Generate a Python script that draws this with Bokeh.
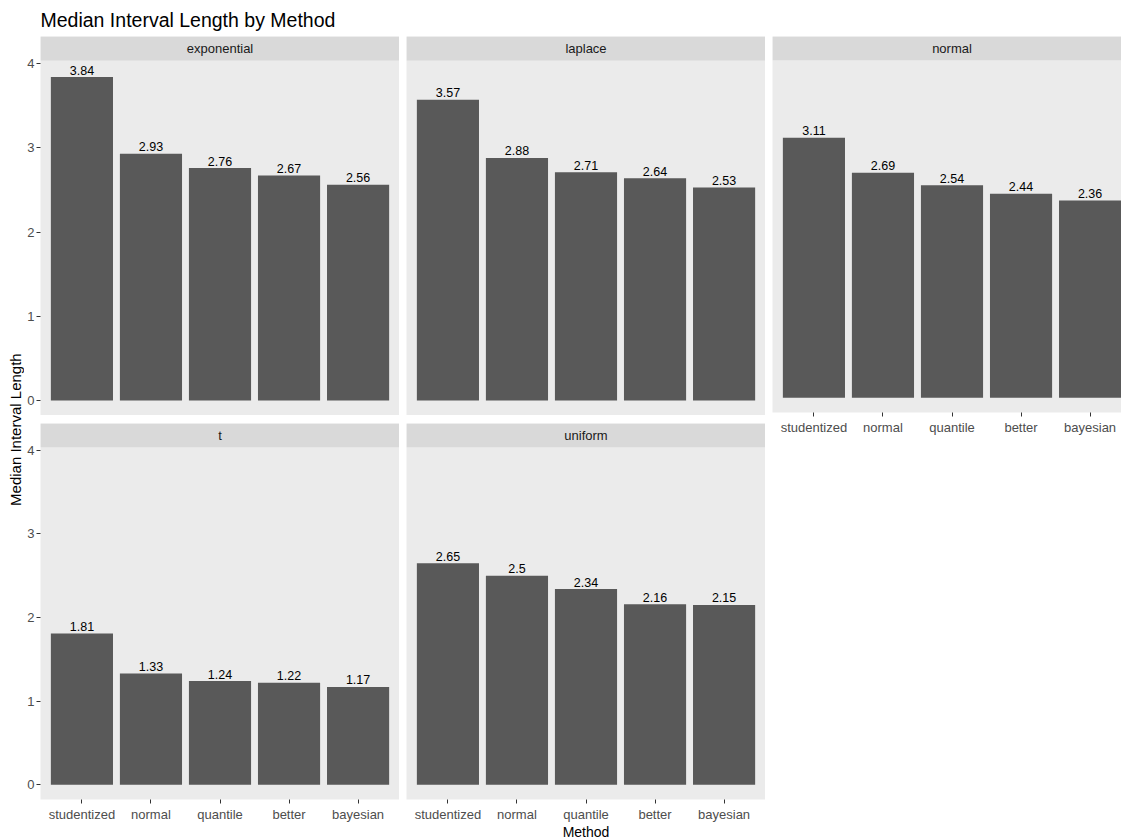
import math
from bokeh.plotting import figure
from bokeh.layouts import row, column
from bokeh.models import Range1d, FixedTicker, BoxAnnotation, Label, ColumnDataSource
from bokeh.embed import file_html
from bokeh.resources import INLINE
from bokeh.core.properties import value

# ---------------- data ----------------
methods = ["studentized", "normal", "quantile", "better", "bayesian"]
distributions = ["exponential", "laplace", "normal", "t", "uniform"]
exponential = [3.84, 2.93, 2.76, 2.67, 2.56]
laplace = [3.57, 2.88, 2.71, 2.64, 2.53]
normal = [3.11, 2.69, 2.54, 2.44, 2.36]
t_dist = [1.81, 1.33, 1.24, 1.22, 1.17]
uniform = [2.65, 2.50, 2.34, 2.16, 2.15]
title_text = "Median Interval Length by Method"
x_title = "Method"
y_title = "Median Interval Length"

series = {"exponential": exponential, "laplace": laplace, "normal": normal,
          "t": t_dist, "uniform": uniform}

# ---------------- style / geometry ----------------
FONT = "Liberation Sans"
TOTAL_W = 1121
TOTAL_H = 838
PANEL_W = 359
PANEL_H = 355
STRIP_H = 24
GAP_X = 7
GAP_Y = 8
LEFT_AX = 16
BOTTOM_AX = 22
YLAB_W = 24
TITLE_H = 36

all_vals = exponential + laplace + normal + t_dist + uniform
ymax = max(all_vals)
Y0 = -0.046 * ymax
Y_TOP = ymax * 1.051
ppu = PANEL_H / (Y_TOP - Y0)
Y_END = Y_TOP + STRIP_H / ppu

X0, X1 = 0.4, 5.6
ppx = PANEL_W / (X1 - X0)


def style_axis(ax):
    ax.axis_line_color = None
    ax.major_tick_line_color = "#333333"
    ax.major_tick_out = 4
    ax.major_tick_in = 0
    ax.minor_tick_line_color = None
    ax.major_label_text_font = FONT
    ax.major_label_text_font_size = "13px"
    ax.major_label_text_color = "#4D4D4D"
    ax.major_label_standoff = 3


def make_panel(name, frame_w, left, top, bottom, show_x, show_y):
    vals = series[name]
    x_end = X0 + frame_w / ppx
    frame_h = PANEL_H + STRIP_H
    p = figure(width=left + frame_w, height=top + frame_h + bottom,
               x_range=Range1d(X0, x_end), y_range=Range1d(Y0, Y_END),
               output_backend="svg", toolbar_location=None, title=None,
               x_axis_location="below" if show_x else None,
               y_axis_location="left" if show_y else None,
               min_border_left=left, min_border_right=0,
               min_border_top=top, min_border_bottom=bottom)
    p.background_fill_color = "#EBEBEB"
    p.border_fill_color = "white"
    p.outline_line_color = None
    p.xgrid.grid_line_color = None
    p.ygrid.grid_line_color = None

    src = ColumnDataSource(dict(x=list(range(1, len(methods) + 1)), top=vals,
                                label=[f"{v:g}" for v in vals]))
    p.vbar(x="x", top="top", bottom=0, width=0.9, source=src,
           fill_color="#595959", line_color=None)
    p.text(x="x", y="top", text="label", source=src, text_align="center",
           text_baseline="middle", y_offset=-7,
           text_font=value(FONT), text_font_size=value("12.5px"), text_color="black")

    p.add_layout(BoxAnnotation(bottom=Y_TOP, top=Y_END, left=X0, right=x_end,
                               fill_color="#D9D9D9", fill_alpha=1.0, line_color=None))
    p.add_layout(Label(x=(X0 + X1) / 2, y=(Y_TOP + Y_END) / 2, text=name,
                       text_align="center", text_baseline="middle", text_font=FONT,
                       text_font_size="13px", text_color="#1A1A1A"))

    if show_x:
        ax = p.xaxis[0]
        ax.ticker = FixedTicker(ticks=list(range(1, len(methods) + 1)))
        ax.major_label_overrides = {i + 1: m for i, m in enumerate(methods)}
        style_axis(ax)
    if show_y:
        ay = p.yaxis[0]
        ay.ticker = FixedTicker(ticks=[0, 1, 2, 3, 4])
        style_axis(ay)
        ay.major_label_standoff = 2
    return p


third_w = TOTAL_W - YLAB_W - (LEFT_AX + PANEL_W) - (GAP_X + PANEL_W) - GAP_X

p1 = make_panel("exponential", PANEL_W, LEFT_AX, 0, 0, False, True)
p2 = make_panel("laplace", PANEL_W, GAP_X, 0, 0, False, False)
p3 = make_panel("normal", third_w, GAP_X, 0, BOTTOM_AX, True, False)
p4 = make_panel("t", PANEL_W, LEFT_AX, GAP_Y, BOTTOM_AX, True, True)
p5 = make_panel("uniform", PANEL_W, GAP_X, GAP_Y, BOTTOM_AX, True, False)

block_h = 2 * (PANEL_H + STRIP_H) + GAP_Y + BOTTOM_AX
XLAB_H = TOTAL_H - TITLE_H - block_h


def blank(w, h):
    f = figure(width=w, height=h, x_range=Range1d(0, w), y_range=Range1d(0, h),
               output_backend="svg", toolbar_location=None, title=None,
               x_axis_location=None, y_axis_location=None,
               min_border_left=0, min_border_right=0, min_border_top=0, min_border_bottom=0)
    f.outline_line_color = None
    f.background_fill_color = "white"
    f.border_fill_color = "white"
    f.xgrid.grid_line_color = None
    f.ygrid.grid_line_color = None
    return f


title_fig = blank(TOTAL_W, TITLE_H)
title_fig.text(x=[YLAB_W + LEFT_AX], y=[TITLE_H - 19.7], text=[title_text], text_align="left",
               text_baseline="middle", text_font=value(FONT),
               text_font_size=value("19.5px"), text_color="black")

ylab_fig = blank(YLAB_W, block_h)
ylab_fig.text(x=[14.5], y=[TITLE_H + block_h - 442], text=[y_title], angle=math.pi / 2,
              text_align="center", text_baseline="middle", text_font=value(FONT),
              text_font_size=value("15px"), text_color="black")

xlab_fig = blank(TOTAL_W, XLAB_H)
full_span = YLAB_W + LEFT_AX + 2 * (PANEL_W + GAP_X) + PANEL_W
xlab_fig.text(x=[(YLAB_W + LEFT_AX + full_span) / 2], y=[7], text=[x_title],
              text_align="center", text_baseline="middle", text_font=value(FONT),
              text_font_size=value("14px"), text_color="black")

left_block = column(row(p1, p2), row(p4, p5))
layout = column(title_fig, row(ylab_fig, left_block, p3), xlab_fig)

open("out.html", "w").write(file_html(layout, INLINE))
